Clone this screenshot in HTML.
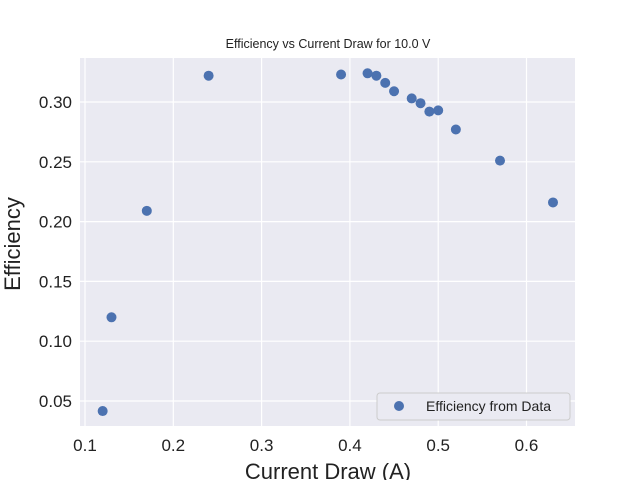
<!DOCTYPE html>
<html><head><meta charset="utf-8"><style>
body{margin:0;background:#fff;font-family:"Liberation Sans","DejaVu Sans",sans-serif;}
svg text{font-family:"Liberation Sans","DejaVu Sans",sans-serif;}
</style></head><body>
<svg id="chart" width="640" height="480" xmlns="http://www.w3.org/2000/svg">
<rect x="80" y="58" width="495" height="368" fill="#eaeaf2"/>
<g id="grid"></g>
<g id="xticks"></g>
<g id="yticks"></g>
<g id="points"></g>
<text x="328" y="48" font-size="12.5" text-anchor="middle" fill="#222">Efficiency vs Current Draw for 10.0 V</text>
<text x="328" y="479" font-size="22" text-anchor="middle" fill="#222">Current Draw (A)</text>
<text transform="translate(20,244) rotate(-90)" font-size="22" text-anchor="middle" fill="#222">Efficiency</text>
<g>
<rect x="377" y="393" width="193" height="27" rx="3" fill="#eaeaf2" stroke="#cccccc" stroke-width="1"/>
<circle cx="399" cy="406" r="5" fill="#4c72b0"/>
<text x="426" y="411" font-size="14" fill="#222">Efficiency from Data</text>
</g>
</svg>
<script>
const currents=[0.12,0.13,0.17,0.24,0.39,0.42,0.43,0.44,0.45,0.47,0.48,0.49,0.50,0.52,0.57,0.63];
const efficiencies=[0.0416,0.120,0.209,0.322,0.323,0.324,0.322,0.316,0.309,0.303,0.299,0.292,0.293,0.277,0.251,0.216];
const xTicks=[0.1,0.2,0.3,0.4,0.5,0.6];
const yTicks=[0.05,0.10,0.15,0.20,0.25,0.30];
const NS="http://www.w3.org/2000/svg";
function xs(v){return 85+(v-0.1)*883;}
function ys(v){return 401-(v-0.05)*1196;}
const grid=document.getElementById('grid'),xt=document.getElementById('xticks'),yt=document.getElementById('yticks'),pts=document.getElementById('points');
xTicks.forEach(t=>{
 const l=document.createElementNS(NS,'line');
 
 
 l.setAttribute('x1',xs(t));l.setAttribute('x2',xs(t));l.setAttribute('y1',58);l.setAttribute('y2',426);
 l.setAttribute('stroke','#fff');l.setAttribute('stroke-width','1.2');grid.appendChild(l);
 const tx=document.createElementNS(NS,'text');
 
 
 tx.setAttribute('x',xs(t));tx.setAttribute('y',451);tx.setAttribute('font-size','17');tx.setAttribute('text-anchor','middle');tx.setAttribute('fill','#222');
 tx.textContent=t.toFixed(1);xt.appendChild(tx);
});
yTicks.forEach(t=>{
 const l=document.createElementNS(NS,'line');
 
 
 l.setAttribute('x1',80);l.setAttribute('x2',575);l.setAttribute('y1',ys(t));l.setAttribute('y2',ys(t));
 l.setAttribute('stroke','#fff');l.setAttribute('stroke-width','1.2');grid.appendChild(l);
 const tx=document.createElementNS(NS,'text');
 
 
 tx.setAttribute('x',72);tx.setAttribute('y',ys(t)+6);tx.setAttribute('font-size','17');tx.setAttribute('text-anchor','end');tx.setAttribute('fill','#222');
 tx.textContent=t.toFixed(2);yt.appendChild(tx);
});
currents.forEach((c,i)=>{
 const p=document.createElementNS(NS,'circle');
 
 
 p.setAttribute('cx',xs(c));p.setAttribute('cy',ys(efficiencies[i]));p.setAttribute('r',5);p.setAttribute('fill','#4c72b0');
 pts.appendChild(p);
});
</script>
</body></html>
